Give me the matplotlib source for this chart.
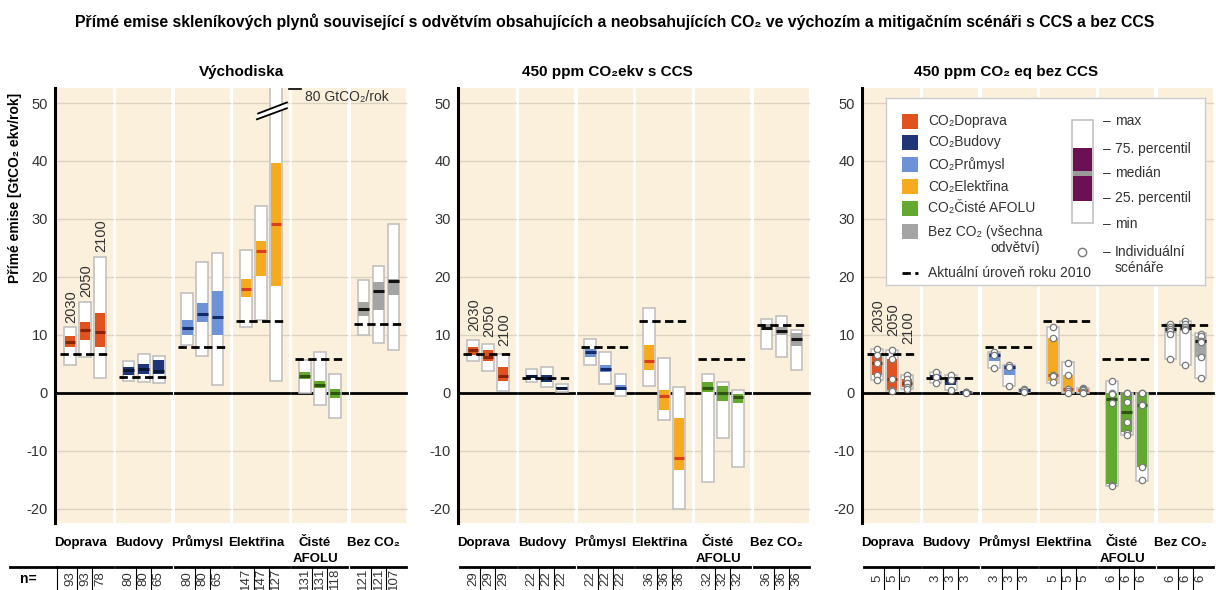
import matplotlib
matplotlib.use('Agg')
import matplotlib.pyplot as plt
from matplotlib.patches import Rectangle, Polygon
from matplotlib.transforms import blended_transform_factory

plt.rcParams['font.family'] = ['Liberation Sans', 'DejaVu Sans']
plt.rcParams['axes.unicode_minus'] = False

sectors = ['Doprava', 'Budovy', 'Průmysl', 'Elektřina', 'Čisté\nAFOLU', 'Bez CO₂']
years = ['2030', '2050', '2100']

# Vychodiska (baseline)
base_max = [[11.3, 15.7, 23.5], [5.4, 6.7, 6.4], [17.2, 22.5, 24.1], [24.7, 32.2, 80.0], [5.7, 7.0, 3.3], [19.5, 21.9, 29.2]]
base_p75 = [[9.7, 12.2, 13.8], [4.5, 5.0, 5.7], [12.6, 15.5, 17.6], [19.7, 26.2, 39.7], [3.5, 2.1, 0.6], [15.6, 19.1, 19.7]]
base_med = [[8.7, 10.8, 10.5], [4.0, 4.1, 3.7], [11.2, 13.6, 13.1], [17.9, 24.4, 29.2], [2.9, 1.3, 0.0], [14.5, 17.6, 19.2]]
base_p25 = [[7.8, 9.1, 7.8], [3.0, 3.3, 3.2], [10.0, 12.2, 10.0], [16.5, 20.1, 18.5], [2.4, 0.8, -1.0], [13.2, 14.3, 16.8]]
base_min = [[4.7, 6.2, 2.5], [2.1, 1.9, 1.6], [8.2, 6.4, 1.3], [11.4, 12.6, 2.1], [0.0, -2.2, -4.3], [9.9, 8.5, 7.4]]
base_2010 = [6.7, 2.7, 7.8, 12.4, 5.8, 11.8]
base_n = [[93, 93, 78], [80, 80, 65], [80, 80, 65], [147, 147, 127], [131, 131, 118], [121, 121, 107]]

# 450 ppm s CCS
ccs_max = [[9.1, 8.4, 6.7], [4.1, 4.4, 1.5], [9.3, 7.0, 3.3], [14.7, 6.0, 0.9], [3.2, 1.8, 0.5], [12.7, 13.3, 10.8]]
ccs_p75 = [[7.8, 7.4, 4.4], [3.1, 3.1, 1.0], [7.6, 4.7, 1.4], [8.3, 0.5, -4.4], [1.8, 1.2, -0.2], [11.9, 11.4, 10.3]]
ccs_med = [[7.3, 6.1, 2.9], [2.8, 2.5, 0.8], [7.0, 4.1, 0.8], [5.5, -0.6, -11.2], [0.75, -0.1, -0.7], [11.2, 10.6, 9.3]]
ccs_p25 = [[6.5, 5.4, 2.1], [2.5, 1.8, 0.6], [6.1, 3.5, 0.5], [3.9, -3.0, -13.4], [0.05, -1.5, -1.7], [10.8, 10.0, 8.1]]
ccs_min = [[5.5, 3.7, 0.3], [1.8, 1.0, 0.2], [4.7, 1.5, -0.5], [1.2, -4.7, -20.0], [-15.5, -7.9, -12.8], [7.6, 6.2, 3.9]]
ccs_2010 = [6.7, 2.6, 7.8, 12.3, 5.8, 11.7]
ccs_n = [[29, 29, 29], [22, 22, 22], [22, 22, 22], [36, 36, 36], [32, 32, 32], [36, 36, 36]]

# 450 ppm bez CCS
noccs_max = [[7.5, 7.4, 3.1], [3.5, 3.1, 0.15], [7.1, 4.8, 0.7], [11.3, 5.3, 0.8], [2.0, 0.0, 0.0], [11.8, 12.4, 10.3]]
noccs_p75 = [[6.5, 5.8, 2.4], [3.0, 2.7, 0.1], [6.8, 4.7, 0.6], [9.4, 3.0, 0.6], [-0.1, -0.1, -0.1], [11.5, 11.8, 9.7]]
noccs_med = [[5.1, 2.3, 1.7], [2.7, 2.2, 0.05], [6.5, 4.5, 0.5], [3.0, 0.6, 0.4], [-1.1, -3.3, -2.1], [11.0, 11.2, 9.0]]
noccs_p25 = [[3.0, 0.5, 1.0], [2.2, 1.3, 0.0], [5.4, 3.0, 0.35], [2.0, 0.2, 0.1], [-15.8, -6.8, -12.9], [10.3, 10.7, 6.2]]
noccs_min = [[2.2, 0.3, 0.6], [1.6, 0.4, 0.0], [4.3, 1.2, 0.2], [1.7, 0.0, 0.0], [-16.1, -7.3, -15.2], [5.8, 4.7, 2.6]]
noccs_2010 = [6.6, 2.6, 7.8, 12.3, 5.8, 11.7]
noccs_n = [[5, 5, 5], [3, 3, 3], [3, 3, 3], [5, 5, 5], [6, 6, 6], [6, 6, 6]]
noccs_points = [
    [[7.5, 6.5, 5.1, 3.0, 2.2], [7.4, 5.8, 2.3, 0.5, 0.3], [3.1, 2.3, 1.7, 1.0, 0.6]],
    [[3.5, 2.7, 1.6], [3.1, 2.2, 0.4], [0.1, 0.05, 0.0]],
    [[7.1, 6.5, 4.3], [4.8, 4.5, 1.2], [0.7, 0.5, 0.2]],
    [[11.3, 9.4, 3.1, 2.9, 1.8], [5.2, 3.0, 0.6, 0.3, 0.0], [0.8, 0.6, 0.4, 0.1, 0.0]],
    [[2.0, -0.1, -0.3, -1.8, -15.9, -16.1], [0.0, -0.1, -1.6, -5.0, -7.0, -7.3], [0.0, -0.1, -2.0, -2.2, -12.9, -15.1]],
    [[11.8, 11.3, 11.0, 10.7, 10.2, 5.8], [12.4, 11.9, 11.4, 11.0, 10.8, 4.7], [10.2, 9.7, 9.0, 8.8, 6.1, 2.6]],
]

legend_labels = ['CO₂Doprava', 'CO₂Budovy', 'CO₂Průmysl', 'CO₂Elektřina', 'CO₂Čisté AFOLU', 'Bez CO₂ (všechna']
box_labels = ['max', '75. percentil', 'medián', '25. percentil', 'min']

box_colors = ['#E1531E', '#1F3578', '#6E92D8', '#F5AA1F', '#63A82F', '#A4A4A4']
med_colors = ['#8A2406', '#0A1838', '#122A66', '#D9401A', '#2D5410', '#111111']
beige = '#FAF0DC'
gridc = '#DCD2C2'

fig = plt.figure(figsize=(12.16, 5.9), dpi=100)
W, H = 1216.0, 590.0
bottom, height = 1 - 523 / H, 435 / H
lefts = [55, 458, 862]


def draw_panel(ax, mins, p25s, meds, p75s, maxs, ref, counts, label_y, points=None):
    ax.set_xlim(-0.51, 5.52)
    ax.set_ylim(-22.5, 52.6)
    ax.set_facecolor('none')
    for s in ['top', 'right', 'bottom']:
        ax.spines[s].set_visible(False)
    ax.spines['left'].set_linewidth(2.2)
    ax.set_xticks([])
    ax.set_yticks(range(-20, 51, 10))
    ax.tick_params(axis='y', length=0, pad=5, labelsize=10.5, labelcolor='#333333')
    trans = blended_transform_factory(ax.transData, fig.transFigure)
    for i in range(6):
        ax.axvspan(i - 0.47, i + 0.47, color=beige, lw=0, zorder=0)
        for g in [-20, -10, 10, 20, 30, 40, 50]:
            ax.plot([i - 0.47, i + 0.47], [g, g], color=gridc, lw=1, zorder=1)
        ax.plot([i - 0.47, i + 0.47], [0, 0], color='black', lw=2, zorder=2)
        for j in range(3):
            x = i + (j - 1) * 0.256
            w = 0.2
            ax.add_patch(Rectangle((x - w / 2, mins[i][j]), w, maxs[i][j] - mins[i][j],
                                   facecolor='white', edgecolor='#BDBDBD', lw=1.1, zorder=3))
            ax.add_patch(Rectangle((x - w / 2 + 0.01, p25s[i][j]), w - 0.02, p75s[i][j] - p25s[i][j],
                                   facecolor=box_colors[i], lw=0, zorder=4))
            ax.plot([x - w / 2 + 0.01, x + w / 2 - 0.01], [meds[i][j]] * 2, color=med_colors[i],
                    lw=2.2, zorder=5, solid_capstyle='butt')
            if points is not None:
                pts = points[i][j]
                ax.plot([x] * len(pts), pts, 'o', mfc='white', mec='#7A7A7A', ms=4.6, mew=0.9, zorder=7)
            if i == 0:
                ax.text(x + 0.02, label_y[j], years[j], rotation=90, ha='center', va='bottom',
                        fontsize=10.5, color='#333333', zorder=8)
            # n= row
            ax.text(x, 0.019, str(counts[i][j]), rotation=90, ha='center', va='center',
                    fontsize=9.5, color='#333333', transform=trans)
        ax.plot([i - 0.42, i + 0.42], [ref[i]] * 2, color='black', lw=2, dashes=(3, 1.6), zorder=6)
        for k, line in enumerate(sectors[i].split('\n')):
            ax.text(i - 0.08, 1 - (546 + 16 * k) / H, line, ha='center', va='baseline', fontsize=9.5,
                    fontweight='bold', transform=trans)
        ax.plot([i - 0.47, i + 0.47], [0.039, 0.039], color='black', lw=2, transform=trans, clip_on=False)
        for xs in [i - 0.128, i + 0.128]:
            ax.plot([xs, xs], [0.039, 0.0], color='black', lw=0.8, transform=trans, clip_on=False)


axes = []
panels = [
    (base_min, base_p25, base_med, base_p75, base_max, base_2010, base_n, [12.1, 16.5, 24.3], None),
    (ccs_min, ccs_p25, ccs_med, ccs_p75, ccs_max, ccs_2010, ccs_n, [10.7, 9.6, 8.1], None),
    (noccs_min, noccs_p25, noccs_med, noccs_p75, noccs_max, noccs_2010, noccs_n, [10.5, 9.8, 8.4], noccs_points),
]
for left, p in zip(lefts, panels):
    ax = fig.add_axes([left / W, bottom, 354 / W, height])
    draw_panel(ax, *p)
    axes.append(ax)

# break in the baseline electricity 2100 bar (max 80)
ax = axes[0]
ax.add_patch(Polygon([(2.93, 47.2), (3.44, 49.1), (3.44, 50.1), (2.95, 48.2)],
                     closed=True, facecolor='white', edgecolor='none', zorder=9))
ax.plot([2.93, 3.44], [47.2, 49.1], color='black', lw=1.3, zorder=10)
ax.plot([2.95, 3.44], [48.2, 50.1], color='black', lw=1.3, zorder=10)
ax.plot([3.48, 3.68], [52.4, 52.4], color='black', lw=1.2, clip_on=False, zorder=10)
ax.text(3.74, 51.0, '80 GtCO₂/rok', fontsize=10, va='center', color='#333333', zorder=10)

# extension of the n= row line and label
fig.add_artist(plt.Line2D([10 / W, 57 / W], [0.039, 0.039], color='black', lw=2))
fig.add_artist(plt.Line2D([57 / W, 57 / W], [0.039, 0.0], color='black', lw=0.8))
fig.text(20 / W, 0.019, 'n=', fontsize=10, fontweight='bold', va='center', ha='left')

# titles
fig.text(615 / W, 1 - 22 / H, 'Přímé emise skleníkových plynů související s odvětvím obsahujících a '
         'neobsahujících CO₂ ve výchozím a mitigačním scénáři s CCS a bez CCS',
         ha='center', va='center', fontsize=11.4, fontweight='bold')
for xc, t in zip([242, 607, 1006], ['Východiska', '450 ppm CO₂ekv s CCS', '450 ppm CO₂ eq bez CCS']):
    fig.text(xc / W, 1 - 72 / H, t, ha='center', va='center', fontsize=11, fontweight='bold')
fig.text(15 / W, 1 - 188 / H, 'Přímé emise [GtCO₂ ekv/rok]', rotation=90, ha='center', va='center',
         fontsize=10, fontweight='bold')

# legend panel
lg = fig.add_axes([886 / W, 1 - 285 / H, 319 / W, 187 / H])
lg.set_xlim(0, 319)
lg.set_ylim(187, 0)
lg.set_xticks([])
lg.set_yticks([])
lg.set_facecolor('white')
lg.set_zorder(10)
for s in lg.spines.values():
    s.set_color('#CCCCCC')
    s.set_linewidth(1)
rows = [23, 44.3, 66.3, 88.7, 110.3, 133.7]
for k, (lab, y) in enumerate(zip(legend_labels, rows)):
    lg.add_patch(Rectangle((16, y - 7.5), 16, 15, facecolor=box_colors[k], lw=0))
    lg.text(42, y, lab, fontsize=10, va='center', color='#333333')
lg.text(154, 150.3, 'odvětví)', fontsize=10, va='center', ha='right', color='#333333')
lg.plot([16, 32], [174.7, 174.7], color='black', lw=2, dashes=(3, 1.6))
lg.text(42, 174.7, 'Aktuální úroveň roku 2010', fontsize=10, va='center', color='#333333')
lg.add_patch(Rectangle((186, 22), 21, 103.3, facecolor='white', edgecolor='#BDBDBD', lw=1.1))
lg.add_patch(Rectangle((187, 49.7), 19, 53.3, facecolor='#6B1050', lw=0))
lg.add_patch(Rectangle((187, 72.7), 19, 5.3, facecolor='#9A9A9A', lw=0))
for lab, y in zip(box_labels, [23, 51.3, 74.7, 100.3, 126.3]):
    lg.text(217, y, '–', fontsize=10, va='center', color='#333333')
    lg.text(229, y, lab, fontsize=10, va='center', color='#333333')
lg.plot([195.7], [153.7], 'o', mfc='white', mec='#7A7A7A', ms=6, mew=1)
lg.text(217, 153.7, '–', fontsize=10, va='center', color='#333333')
lg.text(229, 153.7, 'Individuální', fontsize=10, va='center', color='#333333')
lg.text(229, 170.3, 'scénáře', fontsize=10, va='center', color='#333333')

fig.savefig('out.png', dpi=100)
